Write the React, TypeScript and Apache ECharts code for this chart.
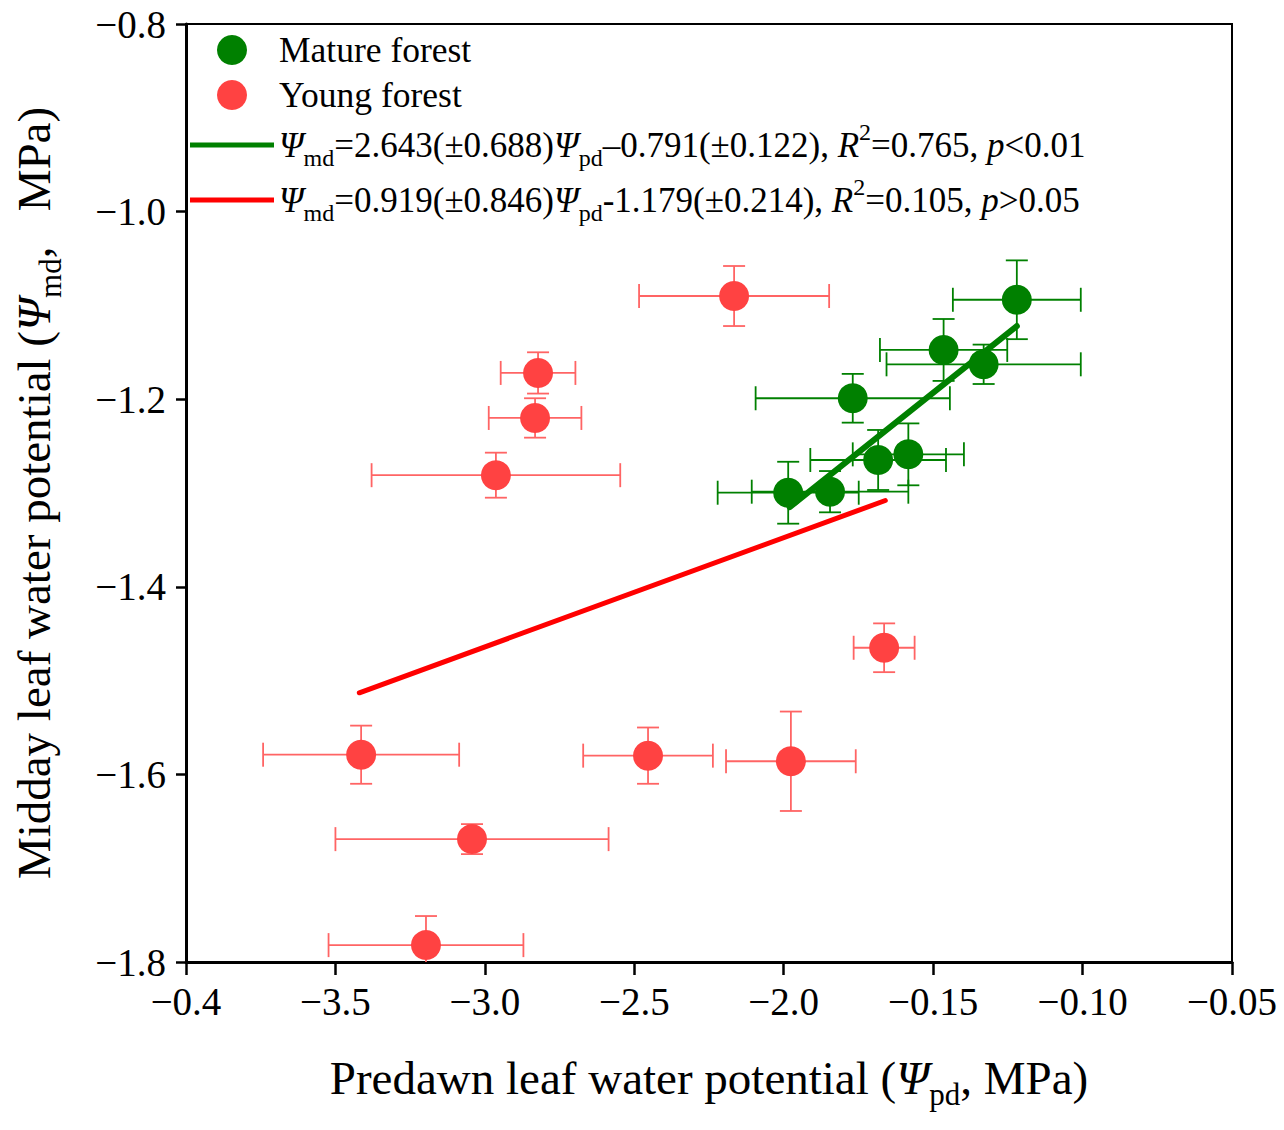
import React, { useEffect, useRef } from 'react';
import * as echarts from 'echarts';

// x tick labels exactly as printed on the original figure
const xTickLabels = ['−0.4', '−3.5', '−3.0', '−2.5', '−2.0', '−0.15', '−0.10', '−0.05'];
const yTickLabels = ['−1.8', '−1.6', '−1.4', '−1.2', '−1.0', '−0.8'];

// Mature forest: predawn (x), midday (y), with SE
const matureX = [-0.122, -0.1465, -0.1331, -0.1769, -0.1684, -0.1583, -0.1985, -0.1845];
const matureY = [-1.094, -1.1475, -1.1628, -1.199, -1.2648, -1.2588, -1.2997, -1.2986];
const matureXErr = [0.0214, 0.0213, 0.0325, 0.0325, 0.0227, 0.0186, 0.0236, 0.0262];
const matureYErr = [0.042, 0.033, 0.021, 0.026, 0.032, 0.033, 0.033, 0.022];

// Young forest
const youngX = [-0.2166, -0.2822, -0.2832, -0.2963, -0.1664, -0.3414, -0.2454, -0.1976, -0.3043, -0.3197];
const youngY = [-1.09, -1.172, -1.22, -1.281, -1.465, -1.579, -1.58, -1.586, -1.669, -1.782];
const youngXErr = [0.0318, 0.0125, 0.0155, 0.0416, 0.0102, 0.0328, 0.0217, 0.0217, 0.0457, 0.0326];
const youngYErr = [0.032, 0.022, 0.021, 0.024, 0.026, 0.031, 0.03, 0.053, 0.016, 0.031];

// regression line end points
const matureFit = [[-0.198, -1.315], [-0.122, -1.122]];
const youngFit = [[-0.342, -1.513], [-0.166, -1.308]];

const FONT = 'Liberation Serif';
const GREEN = '#008000';
const RED = '#ff4242';
const RED_BAR = '#ff6464';
const RED_LINE = '#ff0000';
const LINE_ICON = 'path://M0,0 L84,0 L84,5 L0,5 Z';

const richStyles = {
  n: { fontSize: 35, fontFamily: FONT, color: '#000', lineHeight: 50 },
  i: { fontSize: 35, fontFamily: FONT, fontStyle: 'italic', color: '#000', lineHeight: 50 },
  sub: { fontSize: 24, fontFamily: FONT, color: '#000', lineHeight: 24, verticalAlign: 'bottom' },
  sup: { fontSize: 24, fontFamily: FONT, color: '#000', lineHeight: 24, verticalAlign: 'top' },
};

const nameRich = {
  n: { fontSize: 47, fontFamily: FONT, color: '#000', lineHeight: 64 },
  i: { fontSize: 47, fontFamily: FONT, fontStyle: 'italic', color: '#000', lineHeight: 64 },
  sub: { fontSize: 31, fontFamily: FONT, color: '#000', lineHeight: 31, verticalAlign: 'bottom' },
};

const legendText: Record<string, string> = {
  fitM: '{i|Ψ}{sub|md}{n|=2.643(±0.688)}{i|Ψ}{sub|pd}{n|–0.791(±0.122), }{i|R}{sup|2}{n|=0.765, }{i|p}{n|<0.01}',
  fitY: '{i|Ψ}{sub|md}{n|=0.919(±0.846)}{i|Ψ}{sub|pd}{n|-1.179(±0.214), }{i|R}{sup|2}{n|=0.105, }{i|p}{n|>0.05}',
};

const errorBars = (color: string) => (params: any, api: any) => {
  const x = api.value(0);
  const y = api.value(1);
  const ex = api.value(2);
  const ey = api.value(3);
  const l = api.coord([x - ex, y]);
  const r = api.coord([x + ex, y]);
  const t = api.coord([x, y + ey]);
  const b = api.coord([x, y - ey]);
  const style = { stroke: color, lineWidth: 1.8, fill: 'none' };
  const hc = 12;
  const vc = 11;
  const seg = (x1: number, y1: number, x2: number, y2: number) => ({
    type: 'line',
    shape: { x1, y1, x2, y2 },
    style,
  });
  return {
    type: 'group',
    children: [
      seg(l[0], l[1], r[0], r[1]),
      seg(l[0], l[1] - hc, l[0], l[1] + hc),
      seg(r[0], r[1] - hc, r[0], r[1] + hc),
      seg(t[0], t[1], b[0], b[1]),
      seg(t[0] - vc, t[1], t[0] + vc, t[1]),
      seg(b[0] - vc, b[1], b[0] + vc, b[1]),
    ],
  };
};

const App: React.FC = () => {
  const chartRef = useRef<HTMLDivElement>(null);

  useEffect(() => {
    document.body.style.margin = '0';
    if (!chartRef.current) return;
    const chart = echarts.init(chartRef.current, null, { renderer: 'svg' });

    const matureBars = matureX.map((x, i) => [x, matureY[i], matureXErr[i], matureYErr[i]]);
    const youngBars = youngX.map((x, i) => [x, youngY[i], youngXErr[i], youngYErr[i]]);

    const option = {
      animation: false,
      backgroundColor: '#fff',
      grid: {
        left: 186,
        right: 52,
        top: 24,
        bottom: 168,
        show: true,
        borderColor: '#000',
        borderWidth: 2,
      },
      legend: {
        orient: 'vertical',
        left: 185,
        top: 25,
        itemWidth: 84,
        itemHeight: 30,
        itemGap: 5,
        selectedMode: false,
        data: [
          { name: 'Mature forest', icon: 'circle' },
          { name: 'Young forest', icon: 'circle' },
          { name: 'fitM', icon: LINE_ICON, itemStyle: { color: GREEN } },
          { name: 'fitY', icon: LINE_ICON, itemStyle: { color: RED_LINE } },
        ],
        formatter: (name: string) => legendText[name] || name,
        textStyle: {
          fontFamily: FONT,
          fontSize: 35.5,
          lineHeight: 40,
          color: '#000',
          rich: richStyles,
        },
      },
      xAxis: {
        type: 'value',
        min: -0.4,
        max: -0.05,
        interval: 0.05,
        name: '{n|Predawn leaf water potential (}{i|Ψ}{sub|pd}{n|, MPa)}',
        nameLocation: 'middle',
        nameGap: 84,
        nameTextStyle: { rich: nameRich },
        axisLine: { show: true, onZero: false, lineStyle: { color: '#000', width: 3 } },
        axisTick: { show: true, inside: false, length: 13, lineStyle: { color: '#000', width: 2.5 } },
        splitLine: { show: false },
        axisLabel: {
          margin: 20,
          fontFamily: FONT,
          fontSize: 39,
          color: '#000',
          formatter: (v: number) => xTickLabels[Math.round((v + 0.4) / 0.05)] ?? '',
        },
      },
      yAxis: {
        type: 'value',
        min: -1.8,
        max: -0.8,
        interval: 0.2,
        name: '{n|Midday leaf water potential (}{i|Ψ}{sub|md}{n|,   MPa)}',
        nameLocation: 'middle',
        nameRotate: 90,
        nameGap: 120,
        nameTextStyle: { rich: nameRich },
        axisLine: { show: true, onZero: false, lineStyle: { color: '#000', width: 3 } },
        axisTick: { show: true, inside: false, length: 10, lineStyle: { color: '#000', width: 2.5 } },
        splitLine: { show: false },
        axisLabel: {
          margin: 20,
          fontFamily: FONT,
          fontSize: 39,
          color: '#000',
          formatter: (v: number) => yTickLabels[Math.round((v + 1.8) / 0.2)] ?? '',
        },
      },
      series: [
        {
          name: 'Mature bars',
          type: 'custom',
          z: 1,
          clip: true,
          renderItem: errorBars(GREEN),
          encode: { x: 0, y: 1 },
          data: matureBars,
          silent: true,
        },
        {
          name: 'Young bars',
          type: 'custom',
          z: 1,
          clip: true,
          renderItem: errorBars(RED_BAR),
          encode: { x: 0, y: 1 },
          data: youngBars,
          silent: true,
        },
        {
          name: 'Mature forest',
          type: 'scatter',
          z: 2,
          symbol: 'circle',
          symbolSize: 30,
          itemStyle: { color: GREEN, opacity: 1 },
          data: matureX.map((x, i) => [x, matureY[i]]),
        },
        {
          name: 'Young forest',
          type: 'scatter',
          z: 2,
          symbol: 'circle',
          symbolSize: 30,
          itemStyle: { color: RED, opacity: 1 },
          data: youngX.map((x, i) => [x, youngY[i]]),
        },
        {
          name: 'fitM',
          type: 'line',
          z: 3,
          symbol: 'none',
          showSymbol: false,
          lineStyle: { color: GREEN, width: 6, cap: 'round' },
          itemStyle: { color: GREEN },
          data: matureFit,
        },
        {
          name: 'fitY',
          type: 'line',
          z: 3,
          symbol: 'none',
          showSymbol: false,
          lineStyle: { color: RED_LINE, width: 5, cap: 'round' },
          itemStyle: { color: RED_LINE },
          data: youngFit,
        },
      ],
    };

    chart.setOption(option as any);
    return () => {
      chart.dispose();
    };
  }, []);

  return <div ref={chartRef} style={{ width: 1284, height: 1130 }} />;
};

export default App;
